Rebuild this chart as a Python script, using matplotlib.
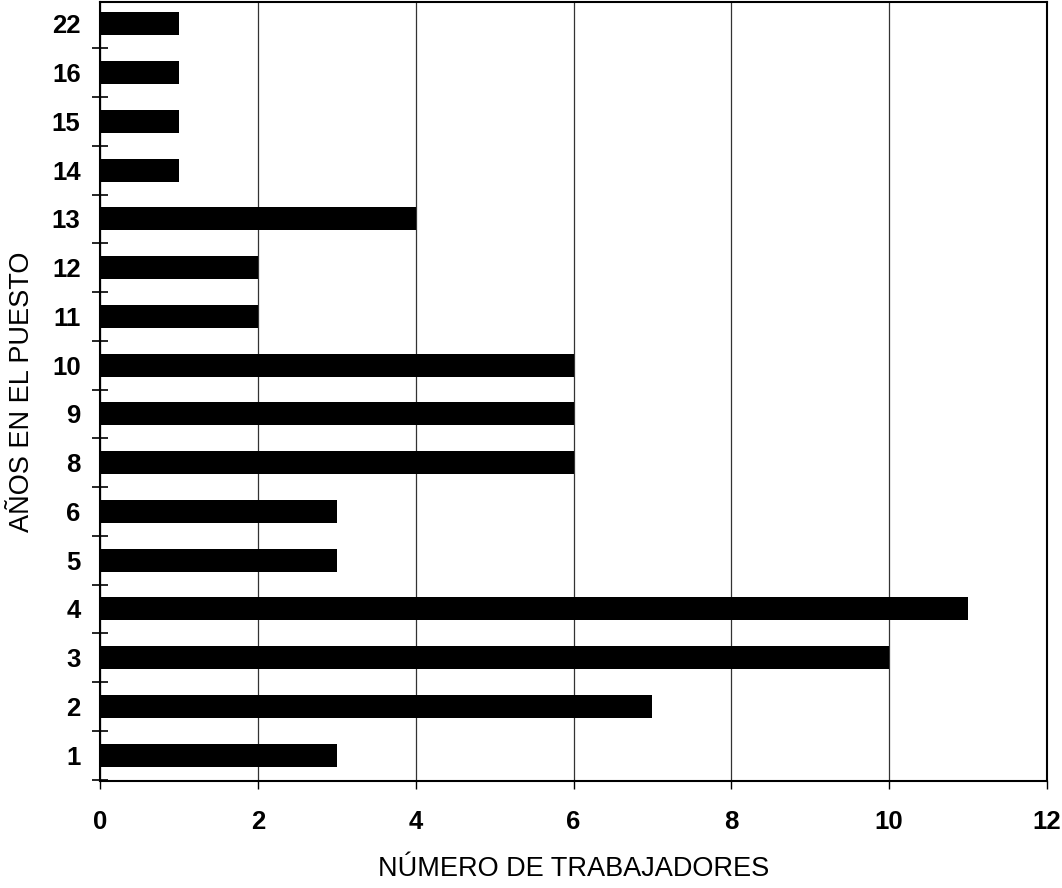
import numpy as np
import matplotlib.pyplot as plt

# datos
anios = ['1', '2', '3', '4', '5', '6', '8', '9', '10', '11', '12', '13', '14', '15', '16', '22']
trabajadores = [3, 7, 10, 11, 3, 3, 6, 6, 6, 2, 2, 4, 1, 1, 1, 1]
xticks = [0, 2, 4, 6, 8, 10, 12]

plt.rcParams['font.family'] = ['Liberation Sans', 'DejaVu Sans']

fig = plt.figure(figsize=(10.62, 8.88), dpi=100)
ax = fig.add_axes([100/1062, 1 - 781/888, (1047-100)/1062, (781-2)/888])

pos = np.arange(len(anios))
ax.barh(pos, trabajadores, height=0.47, color='black', zorder=3)

ax.set_xlim(0, 12)
ax.set_ylim(-0.53, 15.45)
ax.set_xticks(xticks)
ax.set_xticklabels([str(t) for t in xticks], fontsize=18.5, fontweight='bold')
ax.set_yticks(pos)
ax.set_yticklabels(anios, fontsize=18.5, fontweight='bold')
ax.set_yticks(np.append(pos[:-1] + 0.5, -0.5), minor=True)

ax.tick_params(axis='y', which='major', length=0, pad=14)
ax.tick_params(axis='y', which='minor', direction='inout', length=12, width=1.2)
ax.tick_params(axis='x', which='major', direction='out', length=6, width=1, pad=15)

ax.grid(axis='x', color='#333333', linewidth=0.9, zorder=0)
for s in ax.spines.values():
    s.set_linewidth(1.5)

ax.set_xlabel('NÚMERO DE TRABAJADORES', fontsize=19.5, labelpad=16)
ax.set_ylabel('AÑOS EN EL PUESTO', fontsize=19.5)
ax.yaxis.set_label_coords(-0.069, 0.5)

fig.savefig('out.png', dpi=100)
